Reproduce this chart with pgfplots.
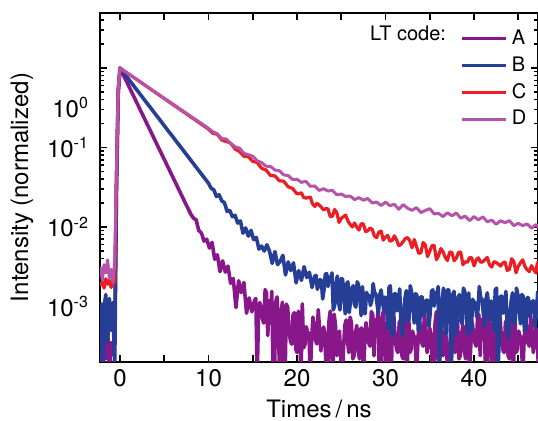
\documentclass[border=0pt]{standalone}
\usepackage{fontspec}
\setmainfont{TeX Gyre Heros}
\usepackage{pgfplots}
\pgfplotsset{compat=1.18}
\definecolor{cA}{RGB}{136,24,138}
\definecolor{cB}{RGB}{38,62,150}
\definecolor{cC}{RGB}{235,30,35}
\definecolor{cD}{RGB}{181,84,170}
\begin{document}
\begin{tikzpicture}
\useasboundingbox (-50pt,-29.5pt) rectangle (219pt,181pt);
\begin{axis}[
  scale only axis, width=219pt, height=174.5pt,
  ymode=log, xmin=-2.26, xmax=47.23, ymin=2.0e-4, ymax=4.92,
  xtick={0,5,...,45}, xticklabels={0,,10,,20,,30,,40,},
  ytick={1e-3,1e-2,1e-1,1},
  yticklabels={10\textsuperscript{-3},10\textsuperscript{-2},10\textsuperscript{-1},{}},
  minor ytick={2e-4,3e-4,4e-4,5e-4,6e-4,7e-4,8e-4,9e-4,2e-3,3e-3,4e-3,5e-3,6e-3,7e-3,8e-3,9e-3,2e-2,3e-2,4e-2,5e-2,6e-2,7e-2,8e-2,9e-2,0.2,0.3,0.4,0.5,0.6,0.7,0.8,0.9,2,3,4},
  extra y ticks={0.318}, extra y tick labels={10\textsuperscript{0}},
  extra y tick style={major tick length=0pt},
  tick align=inside, major tick length=3.5pt, minor tick length=2pt,
  axis line style={line width=1pt},
  every tick/.style={black, line width=0.8pt},
  /pgf/number format/assume math mode=true,
  tick label style={font=\fontsize{12}{14}\selectfont},
  yticklabel style={xshift=-2pt},
  xlabel={Times\,/\,ns}, ylabel={Intensity (normalized)},
  label style={font=\fontsize{12}{14}\selectfont},
  legend style={draw=none, fill=none, at={(0.997,0.975)}, anchor=north east,
    font=\fontsize{10}{12}\selectfont, row sep=0.5pt, cells={anchor=west}},
  legend image code/.code={\draw[#1, line width=1.5pt] (0pt,0pt) -- (22pt,0pt);},
  every axis plot/.append style={line join=round, line width=1.5pt},
]
\addplot[cA, line width=1.8pt] coordinates {
(-2.2,3.0e-4) (-2.0,1.5e-4) (-1.8,4.0e-4) (-1.6,2.2e-4) (-1.4,5.0e-4) (-1.2,1.6e-4) (-1.0,3.5e-4) (-0.8,2.5e-4) (-0.6,4.5e-4) (-0.4,0.03) (-0.2,0.5) (0,1)
(0.5,0.767) (1,0.589) (1.5,0.452) (2,0.347) (2.5,0.266) (3,0.204) (3.5,0.157) (4,0.120) (4.5,0.0923) (5,0.0708) (5.5,0.0543) (6,0.0417) (6.5,0.0320) (7,0.0245) (7.5,0.0188) (8,0.0145)
(8.3,0.0129) (8.6,0.0123) (8.9,0.00904) (9.2,0.00839) (9.5,0.00664) (9.8,0.00701) (10.1,0.00542) (10.4,0.00640) (10.7,0.00392) (11.0,0.00447)
(11.3,0.00274) (11.6,0.00375) (11.9,0.00270) (12.2,0.00322) (12.5,0.00195) (12.8,0.00225) (13.1,9.68e-4) (13.4,0.00211) (13.7,0.00149) (14.0,0.00200)
(14.3,8.20e-4) (14.6,0.00128) (14.9,8.55e-4) (15.2,0.00119)
(15.35,1.26e-3) (15.5,1.26e-4) (15.65,7.67e-4) (15.8,0.00112) (15.95,9.36e-4) (16.1,6.95e-4) (16.25,6.16e-4) (16.4,0.00163) (16.55,1.47e-3) (16.7,4.31e-4) (16.85,1.18e-3) (17.0,7.67e-4) (17.15,1.55e-3) (17.3,1.26e-4) (17.45,1.26e-4) (17.6,0.00115) (17.75,1.32e-3) (17.9,4.74e-4) (18.05,1.26e-4) (18.2,8.32e-4) (18.35,1.13e-3) (18.5,1.26e-4) (18.65,1.26e-4) (18.8,0.00107) (18.95,9.68e-4) (19.1,4.95e-4) (19.25,3.72e-4) (19.4,3.34e-4) (19.55,7.80e-4) (19.7,8.36e-4) (19.85,2.93e-4) (20.0,2.63e-4)
(20.15,8.72e-4) (20.3,5.78e-4) (20.45,1.26e-4) (20.6,0.00108) (20.75,3.02e-4) (20.9,3.30e-4) (21.05,5.54e-4) (21.2,4.68e-4) (21.35,4.63e-4) (21.5,1.26e-4) (21.65,3.78e-4) (21.8,7.33e-4) (21.95,5.73e-4) (22.1,3.72e-4) (22.25,3.38e-4) (22.4,9.12e-4) (22.55,5.15e-4) (22.7,2.75e-4) (22.85,3.95e-4) (23.0,5.50e-4) (23.15,4.66e-4) (23.3,1.26e-4) (23.45,1.26e-4) (23.6,6.35e-4) (23.75,8.70e-4) (23.9,3.20e-4) (24.05,1.26e-4) (24.2,7.98e-4) (24.35,5.75e-4) (24.5,2.40e-4) (24.65,3.80e-4) (24.8,4.90e-4) (24.95,2.19e-4)
(25.1,1.26e-4) (25.25,2.88e-4) (25.4,5.75e-4) (25.55,6.76e-4) (25.7,3.80e-4) (25.85,2.63e-4) (26.0,7.33e-4) (26.15,6.24e-4) (26.3,2.19e-4) (26.45,2.40e-4) (26.6,4.52e-4) (26.75,5.75e-4) (26.9,2.88e-4) (27.05,2.19e-4) (27.2,5.31e-4) (27.35,5.31e-4) (27.5,1.26e-4) (27.65,3.47e-4) (27.8,6.24e-4) (27.95,4.52e-4) (28.1,3.47e-4) (28.25,3.16e-4) (28.4,8.61e-4) (28.55,7.94e-4) (28.7,2.40e-4) (28.85,6.76e-4) (29.0,4.52e-4) (29.15,9.33e-4) (29.3,1.26e-4) (29.45,1.26e-4) (29.6,7.33e-4) (29.75,8.61e-4) (29.9,3.16e-4)
(30.05,1.26e-4) (30.2,5.75e-4) (30.35,7.94e-4) (30.5,1.26e-4) (30.65,1.26e-4) (30.8,7.94e-4) (30.95,7.33e-4) (31.1,3.80e-4) (31.25,2.88e-4) (31.4,2.63e-4) (31.55,6.24e-4) (31.7,6.76e-4) (31.85,2.40e-4) (32.0,2.19e-4) (32.15,7.33e-4) (32.3,4.90e-4) (32.45,1.26e-4) (32.6,9.33e-4) (32.75,2.63e-4) (32.9,2.88e-4) (33.05,4.90e-4) (33.2,4.17e-4) (33.35,4.17e-4) (33.5,1.26e-4) (33.65,3.47e-4) (33.8,6.76e-4) (33.95,5.31e-4) (34.1,3.47e-4) (34.25,3.16e-4) (34.4,8.61e-4) (34.55,4.90e-4) (34.7,2.63e-4) (34.85,3.80e-4)
(35.0,5.31e-4) (35.15,4.52e-4) (35.3,1.26e-4) (35.45,1.26e-4) (35.6,6.24e-4) (35.75,8.61e-4) (35.9,3.16e-4) (36.05,1.26e-4) (36.2,7.94e-4) (36.35,5.75e-4) (36.5,2.40e-4) (36.65,3.80e-4) (36.8,4.90e-4) (36.95,2.19e-4) (37.1,1.26e-4) (37.25,2.88e-4) (37.4,5.75e-4) (37.55,6.76e-4) (37.7,3.80e-4) (37.85,2.63e-4) (38.0,7.33e-4) (38.15,6.24e-4) (38.3,2.19e-4) (38.45,2.40e-4) (38.6,4.52e-4) (38.75,5.75e-4) (38.9,2.88e-4) (39.05,2.19e-4) (39.2,5.31e-4) (39.35,5.31e-4) (39.5,1.5e-4) (39.65,3.47e-4) (39.8,6.24e-4) (39.95,4.52e-4)
(40.1,3.47e-4) (40.25,3.16e-4) (40.4,7.2e-4) (40.55,7.94e-4) (40.7,2.40e-4) (40.85,6.76e-4) (41.0,4.52e-4) (41.15,9.33e-4) (41.3,1.26e-4) (41.45,1.26e-4) (41.6,8.0e-4) (41.75,8.61e-4) (41.9,3.16e-4) (42.05,1.26e-4) (42.2,5.75e-4) (42.35,7.94e-4) (42.5,1.26e-4) (42.65,1.26e-4) (42.8,6.9e-4) (42.95,7.33e-4) (43.1,3.80e-4) (43.25,2.88e-4) (43.4,2.63e-4) (43.55,6.24e-4) (43.7,6.76e-4) (43.85,2.40e-4) (44.0,2.19e-4) (44.15,7.33e-4) (44.3,4.90e-4) (44.45,1.26e-4) (44.6,1.02e-3) (44.75,2.63e-4) (44.9,2.88e-4)
(45.05,4.90e-4) (45.2,4.17e-4) (45.35,4.17e-4) (45.5,1.26e-4) (45.65,3.47e-4) (45.8,6.76e-4) (45.95,5.31e-4) (46.1,3.47e-4) (46.25,3.16e-4) (46.4,7.6e-4) (46.55,4.90e-4) (46.7,2.63e-4) (46.85,3.80e-4) (47.0,5.31e-4) (47.15,4.52e-4) (47.3,1.26e-4)
};
\addlegendentry{A}
\addplot[cB, line width=1.8pt] coordinates {
(-2.2,1.12e-3) (-2.0,2.5e-4) (-1.9,1.0e-4) (-1.8,1.0e-3) (-1.6,1.41e-3) (-1.4,3.5e-4) (-1.2,1.26e-3) (-1.0,5.0e-4) (-0.8,1.12e-3) (-0.6,1.5e-4) (-0.4,0.03) (-0.2,0.5) (0,1)
(0.5,0.846) (1,0.716) (1.5,0.606) (2,0.513) (2.5,0.434) (3,0.367) (3.5,0.311) (4,0.263) (4.5,0.223) (5,0.188) (5.5,0.159) (6,0.135) (6.5,0.114) (7,0.0966) (7.5,0.0818) (8,0.0692) (8.5,0.0585) (9,0.0495) (9.5,0.0419) (10,0.0355)
(10.3,0.0307) (10.6,0.0293) (10.9,0.0242) (11.2,0.0254) (11.5,0.0213) (11.8,0.0202) (12.1,0.0157) (12.4,0.0162) (12.7,0.01345) (13.0,0.0140)
(13.3,0.0112) (13.6,0.0119) (13.9,0.00835) (14.2,0.00971) (14.5,0.00767) (14.8,0.00906) (15.1,0.00693) (15.4,0.00738) (15.7,0.00526) (16.0,0.00575)
(16.3,0.00498) (16.6,0.00597) (16.9,0.00493) (17.2,0.00348) (17.5,0.00490) (17.8,0.00336) (18.1,0.00369) (18.4,0.00439) (18.7,0.00249) (19.0,0.00363)
(19.3,0.00282) (19.6,0.00353) (19.9,0.00198) (20.2,0.00282) (20.5,0.00213) (20.8,0.00316) (21.1,0.00231) (21.4,0.00269) (21.7,0.00173) (22.0,0.00240)
(22.15,2.46e-3) (22.3,0.00164) (22.45,1.85e-3) (22.6,0.00217) (22.75,2.13e-3) (22.9,0.00124) (23.05,1.62e-3) (23.2,0.00254) (23.35,2.59e-3) (23.5,0.00178) (23.65,2.34e-3) (23.8,0.00215) (23.95,2.64e-3) (24.1,9.04e-4) (24.25,1.02e-3) (24.4,0.00189) (24.55,2.41e-3) (24.7,0.00113) (24.85,9.04e-4) (25.0,0.00223)
(25.15,2.21e-3) (25.3,0.00132) (25.45,8.07e-4) (25.6,0.00191) (25.75,2.04e-3) (25.9,8.38e-4) (26.05,1.17e-3) (26.2,0.00171) (26.35,1.82e-3) (26.5,0.00106) (26.65,9.8e-4) (26.8,0.00204) (26.95,1.88e-3) (27.1,0.00125) (27.25,7.67e-4) (27.4,0.00177) (27.55,9.98e-4) (27.7,8.05e-4) (27.85,1.50e-3) (28.0,0.00138)
(28.15,1.37e-3) (28.3,0.00103) (28.45,1.18e-3) (28.6,0.00194) (28.75,1.49e-3) (28.9,0.00143) (29.05,1.07e-3) (29.2,8.05e-4) (29.35,1.40e-3) (29.5,0.00161) (29.65,1.19e-3) (29.8,9.0e-4) (29.95,1.31e-3) (30.1,0.00117) (30.25,5.25e-4) (30.4,0.00174) (30.55,1.82e-3) (30.7,4.73e-4) (30.85,4.27e-4) (31.0,0.00145)
(31.15,1.45e-3) (31.3,8.81e-4) (31.45,1.08e-3) (31.6,0.00166) (31.75,5.82e-4) (31.9,4.27e-4) (32.05,7.94e-4) (32.2,0.00126) (32.35,1.58e-3) (32.5,6.46e-4) (32.65,7.16e-4) (32.8,0.00182) (32.95,1.51e-3) (33.1,9.33e-4) (33.25,6.17e-4) (33.4,0.00145) (33.55,1.38e-3) (33.7,5.01e-4) (33.85,5.56e-4) (34.0,0.00132)
(34.15,1.32e-3) (34.3,7.59e-4) (34.45,9.33e-4) (34.6,0.00120) (34.75,1.20e-3) (34.9,5.56e-4) (35.05,8.22e-4) (35.2,0.00155) (35.35,1.62e-3) (35.5,0.00101) (35.65,1.48e-3) (35.8,0.00135) (35.95,1.78e-3) (36.1,1.58e-4) (36.25,4.90e-4) (36.4,0.00123) (36.55,1.70e-3) (36.7,6.03e-4) (36.85,4.42e-4) (37.0,0.00162)
(37.15,1.62e-3) (37.3,8.22e-4) (37.45,1.5e-4) (37.6,0.00141) (37.75,1.55e-3) (37.9,4.42e-4) (38.05,7.41e-4) (38.2,0.00129) (38.35,1.41e-3) (38.5,6.68e-4) (38.65,6.03e-4) (38.8,0.00170) (38.95,1.55e-3) (39.1,9.12e-4) (39.25,4.42e-4) (39.4,0.00148) (39.55,6.68e-4) (39.7,4.90e-4) (39.85,1.23e-3) (40.0,0.00112)
(40.15,1.12e-3) (40.3,7.41e-4) (40.45,9.12e-4) (40.6,0.00178) (40.75,1.29e-3) (40.9,0.00123) (41.05,8.22e-4) (41.2,5.43e-4) (41.35,1.23e-3) (41.5,0.00148) (41.65,1.01e-3) (41.8,6.68e-4) (41.95,1.17e-3) (42.1,0.00101) (42.25,4.90e-4) (42.4,0.00162) (42.55,1.70e-3) (42.7,1.41e-4) (42.85,3.98e-4) (43.0,0.00135)
(43.15,1.35e-3) (43.3,8.22e-4) (43.45,1.01e-3) (43.6,0.00155) (43.75,5.43e-4) (43.9,3.98e-4) (44.05,7.41e-4) (44.2,0.00117) (44.35,1.48e-3) (44.5,6.03e-4) (44.65,6.68e-4) (44.8,0.00170) (44.95,1.41e-3) (45.1,9.12e-4) (45.25,6.03e-4) (45.4,0.00141) (45.55,1.35e-3) (45.7,4.90e-4) (45.85,5.43e-4) (46.0,0.00129)
(46.15,1.29e-3) (46.3,7.41e-4) (46.45,9.12e-4) (46.6,0.00117) (46.75,1.17e-3) (46.9,5.43e-4) (47.05,8.22e-4) (47.2,0.00155)
};
\addlegendentry{B}
\addplot[cC, line width=1.6pt] coordinates {
(-2.2,1.81e-3) (-2.0,2.03e-3) (-1.8,1.70e-3) (-1.6,2.23e-3) (-1.4,1.90e-3) (-1.2,2.13e-3) (-1.0,1.73e-3) (-0.8,2.27e-3) (-0.6,1.96e-3) (-0.4,0.04) (-0.2,0.5) (0,1)
(0.5,0.915) (1,0.838) (1.5,0.766) (2,0.702) (2.5,0.642) (3,0.587) (3.5,0.538) (4,0.492) (4.5,0.450) (5,0.412) (5.5,0.377) (6,0.345) (6.5,0.316) (7,0.289) (7.5,0.265) (8,0.242) (8.5,0.222) (9,0.203) (9.5,0.186) (10,0.170)
(10.5,0.1505) (11,0.146) (11.5,0.124) (12,0.119) (12.5,0.1135) (13,0.0955) (13.5,0.0891) (14,0.0776) (14.5,0.0767) (15,0.0668)
(15.5,0.0649) (16,0.0546) (16.5,0.0522) (17,0.0444) (17.5,0.0439) (18,0.0382) (18.5,0.0376) (19,0.0320) (19.5,0.0305) (20,0.0260)
(20.25,0.0264) (20.5,0.0269) (20.75,0.0235) (21,0.0231) (21.25,0.0234) (21.5,0.0238) (21.75,0.0196) (22,0.0181) (22.25,0.0198) (22.5,0.0189) (22.75,0.0177) (23,0.0164) (23.25,0.0170) (23.5,0.0169) (23.75,0.0135) (24,0.0136) (24.25,0.0166) (24.5,0.0151) (24.75,0.0114) (25,0.0128)
(25.25,0.0135) (25.5,0.0141) (25.75,0.0119) (26,0.0108) (26.25,0.0100) (26.5,0.0112) (26.75,0.0100) (27,0.00912) (27.25,0.0110) (27.5,0.0109) (27.75,0.00875) (28,0.00895) (28.25,0.00970) (28.5,0.00931) (28.75,0.00766) (29,0.00735) (29.25,0.00859) (29.5,0.00887) (29.75,0.00682) (30,0.00748)
(30.25,0.00783) (30.5,0.00661) (30.75,0.00676) (31,0.00773) (31.25,0.00689) (31.5,0.00581) (31.75,0.00603) (32,0.00655) (32.25,0.00718) (32.5,0.00733) (32.75,0.00668) (33,0.00547) (33.25,0.00695) (33.5,0.00569) (33.75,0.00465) (34,0.00474) (34.25,0.00637) (34.5,0.00593) (34.75,0.00424) (35,0.00494)
(35.25,0.00583) (35.5,0.00585) (35.75,0.00386) (36,0.00437) (36.25,0.00535) (36.5,0.00489) (36.75,0.00414) (37,0.00378) (37.25,0.00484) (37.5,0.00479) (37.75,0.00376) (38,0.00404) (38.25,0.00480) (38.5,0.00483) (38.75,0.00335) (39,0.00365) (39.25,0.00359) (39.5,0.00413) (39.75,0.00408) (40,0.00324)
(40.25,0.00385) (40.5,0.00409) (40.75,0.00359) (41,0.00365) (41.25,0.00388) (41.5,0.00413) (41.75,0.00335) (42,0.00312) (42.25,0.00366) (42.5,0.00357) (42.75,0.00341) (43,0.00322) (43.25,0.00352) (43.5,0.00362) (43.75,0.00284) (44,0.00292) (44.25,0.00398) (44.5,0.00367) (44.75,0.00265) (45,0.00319)
(45.25,0.00355) (45.5,0.00386) (45.75,0.00318) (46,0.00290) (46.25,0.00274) (46.5,0.00326) (46.75,0.00290) (47,0.00263) (47.15,0.00353) (47.3,0.00360)
};
\addlegendentry{C}
\addplot[cD] coordinates {
(-2.2,3.13e-3) (-2.0,2.14e-3) (-1.8,3.35e-3) (-1.6,2.63e-3) (-1.4,3.85e-3) (-1.2,2.29e-3) (-1.0,2.92e-3) (-0.8,2.0e-3) (-0.6,3.59e-3) (-0.4,0.05) (-0.2,0.55) (0,1)
(0.5,0.916) (1,0.839) (1.5,0.769) (2,0.705) (2.5,0.646) (3,0.592) (3.5,0.542) (4,0.497) (4.5,0.455) (5,0.417) (5.5,0.382) (6,0.350) (6.5,0.321) (7,0.294) (7.5,0.269) (8,0.247) (8.5,0.226) (9,0.207) (9.5,0.190) (10,0.174)
(10.5,0.157) (11,0.149) (11.5,0.129) (12,0.128) (12.5,0.113) (13,0.102) (13.5,0.0982) (14,0.0843) (14.5,0.0811) (15,0.0776)
(15.5,0.0679) (16,0.0646) (16.5,0.0581) (17,0.0578) (17.5,0.0520) (18,0.0510) (18.5,0.0452) (19,0.0443) (19.5,0.0395) (20,0.0398)
(20.5,0.0364) (21,0.0375) (21.5,0.0325) (22,0.0328) (22.5,0.0288) (23,0.0303) (23.5,0.0283) (24,0.0289) (24.5,0.0254) (25,0.0259)
(25.5,0.0242) (26,0.0245) (26.5,0.0221) (27,0.0234) (27.5,0.0217) (28,0.0228) (28.5,0.0200) (29,0.0206) (29.5,0.0186) (30,0.0205)
(30.5,0.0185) (31,0.0193) (31.5,0.0167) (32,0.0191) (32.5,0.0172) (33,0.0162) (33.5,0.0175) (34,0.0152) (34.5,0.0161) (35,0.0170)
(35.5,0.0146) (36,0.0148) (36.5,0.0135) (37,0.0151) (37.5,0.0138) (38,0.0150) (38.5,0.0129) (39,0.0137) (39.5,0.0120) (40,0.0135)
(40.5,0.0123) (41,0.0134) (41.5,0.0116) (42,0.0122) (42.5,0.0108) (43,0.0120) (43.5,0.0113) (44,0.0120) (44.5,0.0104) (45,0.0111)
(45.5,0.0104) (46,0.0109) (46.5,0.00966) (47,0.0107) (47.3,0.00993)
};
\addlegendentry{D}
\node[anchor=base east, font=\fontsize{10}{12}\selectfont] at (rel axis cs:0.806,0.92) {LT code:};
\end{axis}
\end{tikzpicture}
\end{document}
